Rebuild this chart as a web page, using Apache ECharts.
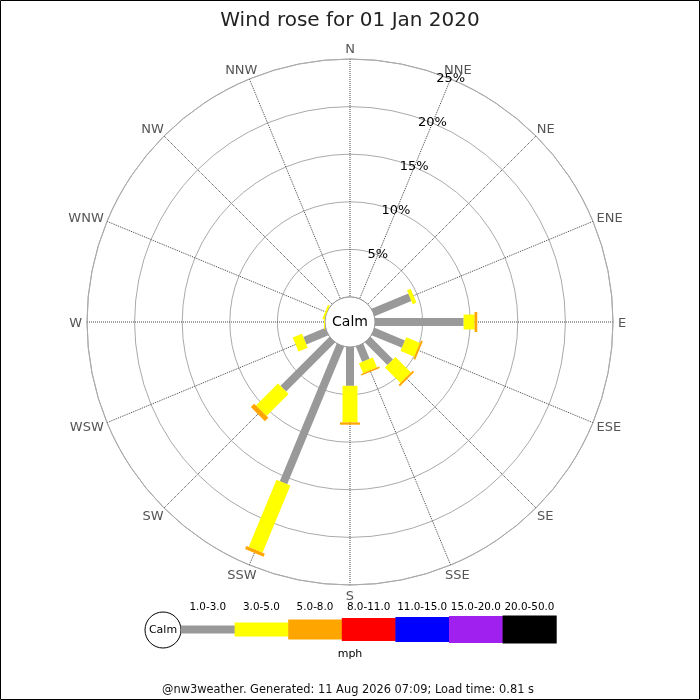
<!DOCTYPE html>
<html>
<head>
<meta charset="utf-8">
<script src="https://cdn.jsdelivr.net/npm/echarts@6/dist/echarts.min.js"></script>
<style>
html,body{margin:0;padding:0;background:#fff;}
#c{width:700px;height:700px;}
</style>
</head>
<body>
<div id="c"></div>
<script>
// ---- data ----
const directions = ['N','NNE','NE','ENE','E','ESE','SE','SSE','S','SSW','SW','WSW','W','WNW','NW','NNW'];
const speedBands = ['1.0-3.0','3.0-5.0','5.0-8.0','8.0-11.0','11.0-15.0','15.0-20.0','20.0-50.0'];
const band1to3   = [0,0,0,4.18,9.31,3.45,3.35,1.74,4.08,15.64,7.28,2.51,0,0,0,0];
const band3to5   = [0,0,0,0.42,1.15,1.57,2.30,1.14,3.84,7.64,3.28,1.05,0.1,0.2,0,0];
const band5to8   = [0,0,0,0,0.28,0.20,0.20,0.15,0.24,0.35,0.50,0,0,0,0,0];
const band8to11  = [0,0,0,0,0,0,0,0,0,0,0,0,0,0,0,0];
const band11to15 = [0,0,0,0,0,0,0,0,0,0,0,0,0,0,0,0];
const band15to20 = [0,0,0,0,0,0,0,0,0,0,0,0,0,0,0,0];
const band20to50 = [0,0,0,0,0,0,0,0,0,0,0,0,0,0,0,0];
const ringTicks = [5,10,15,20,25];
const titleText = 'Wind rose for 01 Jan 2020';
const footerText = '@nw3weather. Generated: 11 Aug 2026 07:09; Load time: 0.81 s';
const unitText = 'mph';
const calmText = 'Calm';

// ---- styles ----
const bandValues = [band1to3, band3to5, band5to8, band8to11, band11to15, band15to20, band20to50];
const bandColors = ['#999999','#ffff00','#ffa500','#ff0000','#0000ff','#a020f0','#000000'];
const bandWidths = [8,15,20,23,25,27,28];
const legendHeights = [8,14,20,23,25,27,28];
const FONT = 'DejaVu Sans';
const DIR_FONT = '13px "' + FONT + '"';
const DIR_LABEL_RADIUS = 25.52; // axis units, label anchor just outside the 25% ring
const DIR_TEXT_H = 11;

const measureCtx = document.createElement('canvas').getContext('2d');
function textWidth(t, font){ measureCtx.font = font; return measureCtx.measureText(t).width; }

const chart = echarts.init(document.getElementById('c'), null, {renderer:'canvas'});

const barData = directions.map((d,i)=>[0, i*22.5, i]);

function renderBars(params, api){
  const i = api.value(2);
  const ang = api.value(1);
  const cs = params.coordSys;
  const cx = cs.cx, cy = cs.cy;
  const children = [];
  let cum = 0;
  for (let b=0; b<bandValues.length; b++){
    const v = bandValues[b][i];
    if (!(v>0)) continue;
    const p0 = api.coord([cum, ang]);
    const p1 = api.coord([cum+v, ang]);
    cum += v;
    let dx = p1[0]-cx, dy = p1[1]-cy;
    const len = Math.sqrt(dx*dx+dy*dy) || 1;
    dx/=len; dy/=len;
    const nx = -dy, ny = dx;
    const h = bandWidths[b]/2;
    children.push({
      type:'polygon',
      shape:{points:[
        [p0[0]+nx*h, p0[1]+ny*h],
        [p1[0]+nx*h, p1[1]+ny*h],
        [p1[0]-nx*h, p1[1]-ny*h],
        [p0[0]-nx*h, p0[1]-ny*h]
      ]},
      style:{fill:bandColors[b]}
    });
  }
  return {type:'group', children};
}

function renderCalm(params, api){
  const cs = params.coordSys;
  return {type:'group', children:[
    {type:'circle', shape:{cx:cs.cx, cy:cs.cy, r:cs.r0}, style:{fill:'#fff', stroke:'#999', lineWidth:1}},
    {type:'text', style:{x:cs.cx, y:cs.cy, text:calmText, fill:'#000', font:'14px "'+FONT+'"', align:'center', verticalAlign:'middle'}}
  ]};
}

function renderRingLabels(params, api){
  const v = api.value(0);
  const p = api.coord([v, api.value(1)]);
  return {type:'text', style:{x:p[0], y:p[1], text:v+'%', fill:'#000', font:'13px "'+FONT+'"', align:'center', verticalAlign:'middle'}};
}

function renderDirLabels(params, api){
  const i = api.value(2);
  const p = api.coord([DIR_LABEL_RADIUS, api.value(1)]);
  const cs = params.coordSys;
  let dx = p[0]-cs.cx, dy = p[1]-cs.cy;
  const len = Math.sqrt(dx*dx+dy*dy) || 1;
  dx/=len; dy/=len;
  const w = textWidth(directions[i], DIR_FONT);
  const x = p[0] + dx*w/2;
  const y = p[1] + dy*DIR_TEXT_H/2 + 1.2;
  return {type:'text', style:{x:x, y:y, text:directions[i], fill:'#555', font:DIR_FONT, align:'center', verticalAlign:'middle'}};
}

// legend graphics
const legendGraphics = [];
const lgX0 = 181, lgW = 53.6, lgCy = 629.5;
legendGraphics.push({type:'circle', shape:{cx:163, cy:630, r:18}, style:{fill:'#fff', stroke:'#000', lineWidth:1}});
legendGraphics.push({type:'text', style:{x:163, y:630, text:calmText, fill:'#000', font:'11px "'+FONT+'"', align:'center', verticalAlign:'middle'}});
speedBands.forEach((lab, b)=>{
  const x = lgX0 + b*lgW;
  legendGraphics.push({type:'rect', shape:{x:x, y:lgCy-legendHeights[b]/2, width:lgW+0.5, height:legendHeights[b]}, style:{fill:bandColors[b]}});
  legendGraphics.push({type:'text', style:{x:x+lgW/2, y:607, text:lab, fill:'#000', font:'10.4px "'+FONT+'"', align:'center', verticalAlign:'middle'}});
});
legendGraphics.push({type:'text', style:{x:350, y:654, text:unitText, fill:'#000', font:'11px "'+FONT+'"', align:'center', verticalAlign:'middle'}});
legendGraphics.push({type:'text', style:{x:348, y:690, text:footerText, fill:'#111', font:'11.4px "'+FONT+'"', align:'center', verticalAlign:'middle'}});
legendGraphics.push({type:'rect', shape:{x:0.5, y:0.5, width:699, height:699}, style:{fill:null, stroke:'#000', lineWidth:1}, silent:true, z:100});

chart.setOption({
  animation:false,
  backgroundColor:'#fff',
  textStyle:{fontFamily:FONT},
  title:{text:titleText, left:'center', top:6, textStyle:{fontSize:20, fontWeight:'normal', color:'#222', fontFamily:FONT}},
  polar:{center:[350,322], radius:[25,263]},
  angleAxis:{
    type:'value', min:0, max:360, interval:22.5, startAngle:90, clockwise:true,
    axisLine:{show:true, lineStyle:{color:'#aaa', width:1}},
    axisTick:{show:false},
    axisLabel:{show:false},
    splitLine:{show:true, lineStyle:{color:'#444', type:'dotted', width:1}}
  },
  radiusAxis:{
    type:'value', min:0, max:25, interval:5,
    axisLine:{show:false}, axisTick:{show:false}, axisLabel:{show:false},
    splitLine:{show:true, lineStyle:{color:'#aaa', width:1}}
  },
  graphic:legendGraphics,
  series:[
    {type:'custom', coordinateSystem:'polar', data:[[0,0]], renderItem:renderCalm, z:1, silent:true},
    {type:'custom', coordinateSystem:'polar', data:barData, renderItem:renderBars, z:2, silent:true},
    {type:'custom', coordinateSystem:'polar', data:ringTicks.map(v=>[v,22.5]), renderItem:renderRingLabels, z:3, silent:true},
    {type:'custom', coordinateSystem:'polar', data:barData, renderItem:renderDirLabels, z:3, silent:true, clip:false}
  ]
});
</script>
</body>
</html>
